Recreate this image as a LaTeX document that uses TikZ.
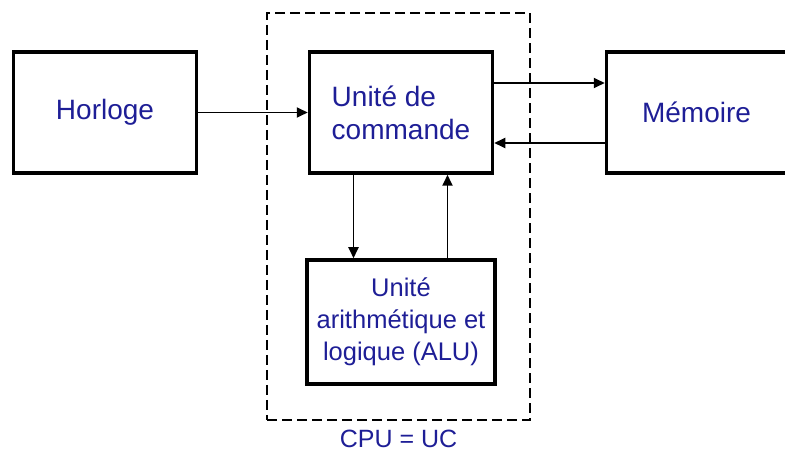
\documentclass[tikz,border=0pt]{standalone}
\usepackage{fontspec}
\setmainfont{Liberation Sans}
\usepackage{xcolor}
\usepackage{tikz}
\usetikzlibrary{positioning,arrows.meta}
\definecolor{txtblue}{HTML}{1E1E96}
\tikzset{
  unit/.style={draw, line width=3.5pt, minimum width=183pt, minimum height=121pt, align=center,
    inner sep=2pt, text=txtblue, font=\fontsize{28}{33}\selectfont},
  cpubox/.style={draw, dashed, line width=1.8pt, dash pattern=on 10pt off 5pt,
    minimum width=263pt, minimum height=407pt},
  flow/.style={-{Triangle[length=11pt,width=10pt]}, line width=1.8pt}
}

\begin{document}
\begin{tikzpicture}[x=1pt, y=-1pt]
  \useasboundingbox (0,0) rectangle (785,454);
  \clip (0,0) rectangle (785,454);

  \node[unit] (horloge) at (105,112.5) {Horloge};
  \node[unit, right=109.5pt of horloge, align=left] (uc) {Unité de\\commande};
  \node[unit, right=110.5pt of uc, minimum width=180pt] (memoire) {Mémoire};
  \node[unit, below=83.5pt of uc, minimum width=188pt, minimum height=124pt,
    font=\fontsize{25.5}{32}\selectfont] (alu) {%
    Unité\\arithmétique et\\logique (ALU)};
  \node[cpubox] (cpu) at (398.5,216.5) {};
  \node[text=txtblue, font=\fontsize{25}{29}\selectfont, inner sep=1pt, below=8pt of cpu] (cpulabel) {CPU = UC};

  \draw[flow] (horloge) -- (uc);
  \draw[flow] ([yshift=29.5pt]uc.east) -- ([yshift=29.5pt]memoire.west);
  \draw[flow] ([yshift=-30.5pt]memoire.west) -- ([yshift=-30.5pt]uc.east);
  \draw[flow] ([xshift=-47.5pt]uc.south) -- ([xshift=-47.5pt]uc.south |- alu.north);
  \draw[flow] ([xshift=46.5pt]uc.south |- alu.north) -- ([xshift=46.5pt]uc.south);
\end{tikzpicture}
\end{document}
